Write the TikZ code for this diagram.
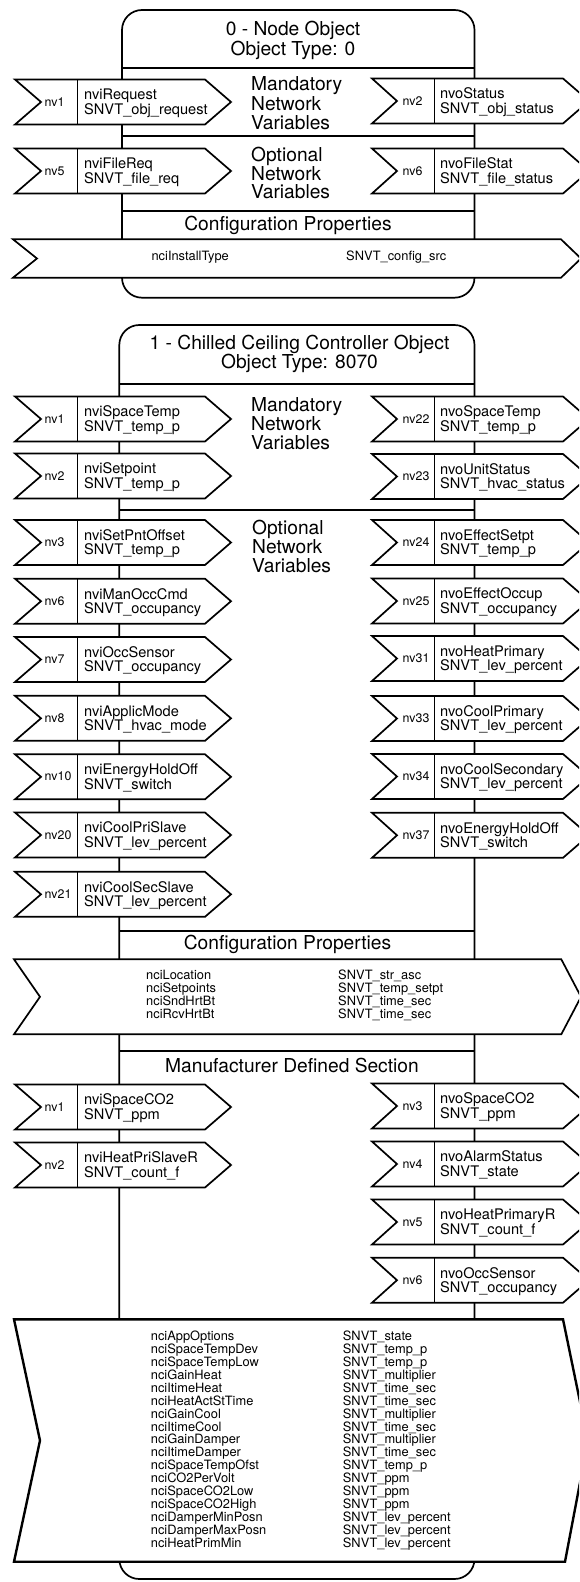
\documentclass[tikz,border=0pt]{standalone}
\usepackage{fontspec}
\setmainfont{TeX Gyre Heros}
\tikzset{
  ln/.style={line width=1.7pt},
  nvbox/.style={draw, line width=1.7pt, fill=white},
  bigbox/.style={draw, line width=2.4pt, fill=white},
  nvlab/.style={anchor=base west, inner sep=0pt, font=\fontsize{12.4}{12.4}\selectfont},
  nvname/.style={anchor=base west, inner sep=0pt, font=\fontsize{14.6}{14.6}\selectfont},
  head/.style={anchor=base, inner sep=0pt, font=\fontsize{19.2}{19.2}\selectfont},
  sect/.style={anchor=base west, inner sep=0pt, font=\fontsize{19.2}{19.2}\selectfont},
  cfg/.style={anchor=base west, inner sep=0pt, font=\fontsize{12.85}{12.85}\selectfont},
}
\newcommand\leftnv[5]{%
  \draw[nvbox] (15,#2) -- (205,#2) -- (231,#2+22.5) -- (205,#2+45) -- (15,#2+45) -- (41,#2+22.5) -- cycle;
  \draw[ln] (77.5,#2) -- (77.5,#2+45);
  \node[nvlab] (#1-l) at (44.5,#2+26.5) {#3};
  \node[nvname] (#1-n) at (84,#2+20.3) {#4};
  \node[nvname] (#1-t) at (84,#2+34.8) {#5};
}
\newcommand\rightnv[5]{%
  \draw[nvbox] (372,#2) -- (563,#2) -- (589,#2+22.5) -- (563,#2+45) -- (372,#2+45) -- (397,#2+22.5) -- cycle;
  \draw[ln] (434.5,#2) -- (434.5,#2+45);
  \node[nvlab] (#1-l) at (402.5,#2+26.5) {#3};
  \node[nvname] (#1-n) at (440,#2+20.3) {#4};
  \node[nvname] (#1-t) at (440,#2+34.8) {#5};
}
\begin{document}
\begin{tikzpicture}[x=1pt,y=-1pt]
\useasboundingbox (0,0) rectangle (579,1582);
\clip (0,0) rectangle (579,1582);
\fill[white] (0,0) rectangle (579,1582);

% ---------------- Box 0: Node Object ----------------
\draw[ln, rounded corners=20pt] (298,297.7) -- (122,297.7) -- (122,10) -- (474.5,10) -- (474.5,297.7) -- cycle;
\draw[ln] (122,67.7) -- (474.5,67.7);
\draw[ln] (122,136) -- (474.5,136);
\draw[ln] (122,210.7) -- (474.5,210.7);
\node[head] (h0a) at (293,35.7) {0 - Node Object};
\node[head] (h0b) at (293,55) {Object Type: 0};
\node[sect] (m0a) at (251,90.7) {Mandatory};
\node[sect] (m0b) at (251,110) {Network};
\node[sect] (m0c) at (251,129.2) {Variables};
\node[sect] (o0a) at (251,161) {Optional};
\node[sect] (o0b) at (251,180) {Network};
\node[sect] (o0c) at (251,198.5) {Variables};
\leftnv{a1}{79.5}{nv1}{nviRequest}{SNVT\_obj\_request}
\rightnv{a2}{78.5}{nv2}{nvoStatus}{SNVT\_obj\_status}
\leftnv{a5}{148.5}{nv5}{nviFileReq}{SNVT\_file\_req}
\rightnv{a6}{148.5}{nv6}{nvoFileStat}{SNVT\_file\_status}
\node[head] (c0) at (288,230) {Configuration Properties};
\draw[nvbox] (13,239.3) -- (561,239.3) -- (581,258.5) -- (561,277.7) -- (13,277.7) -- (37,258.5) -- cycle;
\node[cfg] (c0a) at (151.4,260.5) {nciInstallType};
\node[cfg] (c0b) at (346,260.5) {SNVT\_config\_src};

% ---------------- Box 1: Chilled Ceiling Controller ----------------
\draw[ln, rounded corners=20pt] (297,1579) -- (119.3,1579) -- (119.3,325) -- (474.5,325) -- (474.5,1579) -- cycle;
\draw[ln] (119.3,384.3) -- (474.5,384.3);
\draw[ln] (119.3,510) -- (474.5,510);
\draw[ln] (119.3,931) -- (474.5,931);
\draw[ln] (119.3,1051) -- (474.5,1051);
\node[head] (h1a) at (299.5,349.3) {1 - Chilled Ceiling Controller Object};
\node[head] (h1b) at (299.5,368.3) {Object Type: 8070};
\node[sect] (m1a) at (251,411) {Mandatory};
\node[sect] (m1b) at (251,430.2) {Network};
\node[sect] (m1c) at (251,449.4) {Variables};
\node[sect] (o1a) at (252,534) {Optional};
\node[sect] (o1b) at (252,553.2) {Network};
\node[sect] (o1c) at (252,572.4) {Variables};

\leftnv{b1}{396.5}{nv1}{nviSpaceTemp}{SNVT\_temp\_p}
\leftnv{b2}{453.5}{nv2}{nviSetpoint}{SNVT\_temp\_p}
\leftnv{b3}{520}{nv3}{nviSetPntOffset}{SNVT\_temp\_p}
\leftnv{b6}{578.7}{nv6}{nviManOccCmd}{SNVT\_occupancy}
\leftnv{b7}{637}{nv7}{nviOccSensor}{SNVT\_occupancy}
\leftnv{b8}{695.8}{nv8}{nviApplicMode}{SNVT\_hvac\_mode}
\leftnv{b10}{754.3}{nv10}{nviEnergyHoldOff}{SNVT\_switch}
\leftnv{b20}{812.5}{nv20}{nviCoolPriSlave}{SNVT\_lev\_percent}
\leftnv{b21}{871.8}{nv21}{nviCoolSecSlave}{SNVT\_lev\_percent}

\rightnv{b22}{396.5}{nv22}{nvoSpaceTemp}{SNVT\_temp\_p}
\rightnv{b23}{454}{nv23}{nvoUnitStatus}{SNVT\_hvac\_status}
\rightnv{b24}{520}{nv24}{nvoEffectSetpt}{SNVT\_temp\_p}
\rightnv{b25}{578.5}{nv25}{nvoEffectOccup}{SNVT\_occupancy}
\rightnv{b31}{636}{nv31}{nvoHeatPrimary}{SNVT\_lev\_percent}
\rightnv{b33}{696}{nv33}{nvoCoolPrimary}{SNVT\_lev\_percent}
\rightnv{b34}{754}{nv34}{nvoCoolSecondary}{SNVT\_lev\_percent}
\rightnv{b37}{812.8}{nv37}{nvoEnergyHoldOff}{SNVT\_switch}

\node[head] (c1) at (287.5,949.3) {Configuration Properties};
\draw[nvbox] (14,959.3) -- (561.3,959.3) -- (581,996.8) -- (561.3,1034.3) -- (14,1034.3) -- (40,996.8) -- cycle;
\foreach \a/\b [count=\i from 0] in {nciLocation/SNVT\_str\_asc, nciSetpoints/SNVT\_temp\_setpt, nciSndHrtBt/SNVT\_time\_sec, nciRcvHrtBt/SNVT\_time\_sec}{
  \node[cfg] (ca\i) at (146,979.3+13*\i) {\a};
  \node[cfg] (cb\i) at (338,979.3+13*\i) {\b};
}

\node[head] (md) at (292,1072.7) {Manufacturer Defined Section};
\leftnv{d1}{1084.5}{nv1}{nviSpaceCO2}{SNVT\_ppm}
\leftnv{d2}{1142.5}{nv2}{nviHeatPriSlaveR}{SNVT\_count\_f}
\rightnv{d3}{1083.5}{nv3}{nvoSpaceCO2}{SNVT\_ppm}
\rightnv{d4}{1141.5}{nv4}{nvoAlarmStatus}{SNVT\_state}
\rightnv{d5}{1199.5}{nv5}{nvoHeatPrimaryR}{SNVT\_count\_f}
\rightnv{d6}{1257.7}{nv6}{nvoOccSensor}{SNVT\_occupancy}

\draw[bigbox] (14,1319.3) -- (563,1319.3) -- (588,1440.5) -- (565,1561.7) -- (14,1561.7) -- (40,1440.5) -- cycle;
\foreach \a/\b [count=\i from 0] in {
  nciAppOptions/SNVT\_state,
  nciSpaceTempDev/SNVT\_temp\_p,
  nciSpaceTempLow/SNVT\_temp\_p,
  nciGainHeat/SNVT\_multiplier,
  nciItimeHeat/SNVT\_time\_sec,
  nciHeatActStTime/SNVT\_time\_sec,
  nciGainCool/SNVT\_multiplier,
  nciItimeCool/SNVT\_time\_sec,
  nciGainDamper/SNVT\_multiplier,
  nciItimeDamper/SNVT\_time\_sec,
  nciSpaceTempOfst/SNVT\_temp\_p,
  nciCO2PerVolt/SNVT\_ppm,
  nciSpaceCO2Low/SNVT\_ppm,
  nciSpaceCO2High/SNVT\_ppm,
  nciDamperMinPosn/SNVT\_lev\_percent,
  nciDamperMaxPosn/SNVT\_lev\_percent,
  nciHeatPrimMin/SNVT\_lev\_percent}{
  \node[cfg] (ma\i) at (150.7,1340.7+12.91*\i) {\a};
  \node[cfg] (mb\i) at (342.7,1340.7+12.91*\i) {\b};
}
\end{tikzpicture}
\end{document}
